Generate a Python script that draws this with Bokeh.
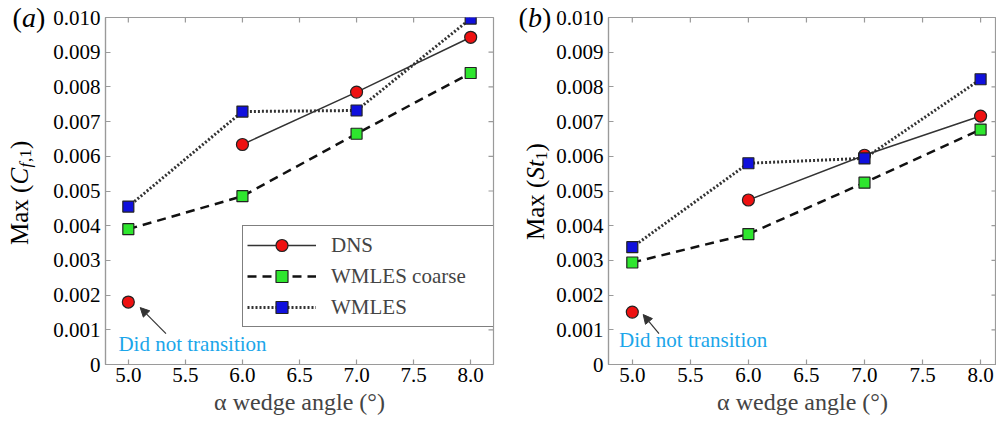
import math
from bokeh.plotting import figure
from bokeh.layouts import row
from bokeh.models import (Range1d, FixedTicker, Legend, LegendItem,
                          Label, Arrow, NormalHead)
from bokeh.embed import file_html
from bokeh.resources import INLINE

# ---------------- data ----------------
angles = [5.0, 6.0, 7.0, 8.0]
cf_dns = [0.00180, 0.00634, 0.00785, 0.00943]
cf_coarse = [0.00390, 0.00485, 0.00665, 0.00840]
cf_wmles = [0.00455, 0.00729, 0.00732, 0.00997]
st_dns = [0.00151, 0.00474, 0.00603, 0.00716]
st_coarse = [0.00294, 0.00376, 0.00524, 0.00677]
st_wmles = [0.00338, 0.00580, 0.00594, 0.00822]
series_names = ["DNS", "WMLES coarse", "WMLES"]
x_ticks = [5.0, 5.5, 6.0, 6.5, 7.0, 7.5, 8.0]
x_tick_labels = ["5.0", "5.5", "6.0", "6.5", "7.0", "7.5", "8.0"]
y_ticks = [0.0, 0.001, 0.002, 0.003, 0.004, 0.005, 0.006, 0.007, 0.008, 0.009, 0.010]
y_tick_labels = ["0", "0.001", "0.002", "0.003", "0.004", "0.005", "0.006",
                 "0.007", "0.008", "0.009", "0.010"]
x_title = "\u03b1 wedge angle (\u00b0)"
note_text = "Did not transition"

SERIF = "Liberation Serif"
FRAME_GREY = "#9a9a9a"
H = 420
Y_MAX = 0.010


def style_axis(ax, ticks, labels):
    ax.ticker = FixedTicker(ticks=ticks)
    ax.major_label_overrides = {t: l for t, l in zip(ticks, labels)}
    ax.minor_tick_line_color = None
    ax.major_tick_in = 5
    ax.major_tick_out = 0
    ax.major_tick_line_color = FRAME_GREY
    ax.major_tick_line_width = 1.2
    ax.axis_line_color = FRAME_GREY
    ax.axis_line_width = 1.2
    ax.major_label_text_font = SERIF
    ax.major_label_text_font_size = "21px"
    ax.major_label_text_color = "black"


def make_panel(dns, coarse, wmles, x_start, x_end, width, mb_right,
               arrow, note_xy, with_legend):
    p = figure(width=width, height=H, output_backend="svg",
               toolbar_location=None,
               x_range=Range1d(x_start, x_end), y_range=Range1d(0.0, Y_MAX),
               min_border_left=52, min_border_right=mb_right,
               min_border_top=17, min_border_bottom=56)
    p.grid.visible = False
    p.outline_line_color = FRAME_GREY
    p.outline_line_width = 1.2
    p.background_fill_color = "white"

    style_axis(p.xaxis[0], x_ticks, x_tick_labels)
    p.xaxis.major_label_standoff = 3
    p.xaxis.axis_label = x_title
    p.xaxis.axis_label_text_font = SERIF
    p.xaxis.axis_label_text_font_size = "24px"
    p.xaxis.axis_label_text_font_style = "normal"
    p.xaxis.axis_label_standoff = 4
    style_axis(p.yaxis[0], y_ticks, y_tick_labels)
    p.yaxis.major_label_standoff = 5

    # inward ticks on the top and right edges of the box
    p.scatter(x_ticks, [Y_MAX] * len(x_ticks), marker="dash", angle=math.pi / 2,
              size=10, line_color=FRAME_GREY, line_width=1.2)
    p.scatter([x_end] * len(y_ticks), y_ticks, marker="dash",
              size=10, line_color=FRAME_GREY, line_width=1.2)

    # lines
    l_dns = p.line(angles[1:], dns[1:], line_color="#333333", line_width=1.5)
    l_coarse = p.line(angles, coarse, line_color="#111111", line_width=2.5,
                      line_dash="9 6")
    l_wmles = p.line(angles, wmles, line_color="#333333", line_width=3,
                     line_dash="2 2")
    # markers
    s_dns = p.scatter(angles, dns, marker="circle", size=12, fill_color="#ee1111",
                      line_color="#222222", line_width=1.2)
    s_coarse = p.scatter(angles, coarse, marker="square", size=11,
                         fill_color="#2ee62e", line_color="#222222", line_width=1.2)
    s_wmles = p.scatter(angles, wmles, marker="square", size=11,
                        fill_color="#1010dd", line_color="#222222", line_width=1.2)

    if with_legend:
        legend = Legend(items=[
            LegendItem(label=series_names[0], renderers=[l_dns, s_dns]),
            LegendItem(label=series_names[1], renderers=[l_coarse, s_coarse]),
            LegendItem(label=series_names[2], renderers=[l_wmles, s_wmles]),
        ], location=(137, 37))
        legend.label_text_font = SERIF
        legend.label_text_font_size = "21px"
        legend.label_text_baseline = "middle"
        legend.glyph_width = 69
        legend.glyph_height = 30
        legend.spacing = 1
        legend.padding = 4
        legend.margin = 0
        legend.label_standoff = 15
        legend.label_width = 158
        legend.label_height = 30
        legend.border_line_color = "black"
        legend.border_line_width = 1.2
        legend.background_fill_color = "white"
        legend.background_fill_alpha = 1.0
        p.add_layout(legend)

    # arrow + note
    (ax0, ay0, ax1, ay1) = arrow
    p.add_layout(Arrow(end=NormalHead(size=9, fill_color="#333333",
                                      line_color="#333333"),
                       x_start=ax0, y_start=ay0, x_end=ax1, y_end=ay1,
                       line_color="#333333", line_width=1.2))
    p.add_layout(Label(x=note_xy[0], y=note_xy[1], text=note_text,
                       text_color="#1ba6ea", text_font=SERIF,
                       text_font_size="21px", text_baseline="middle",
                       text_align="left"))
    return p


def make_side(width, ylabel_parts, ylabel_x, ylabel_cy, letter, letter_x):
    """Narrow canvas on the left of a panel holding the rotated y title
    and the panel letter (coordinates here are plain pixels)."""
    s = figure(width=width, height=H, output_backend="svg",
               toolbar_location=None, title=None,
               x_axis_location=None, y_axis_location=None,
               x_range=Range1d(0, width), y_range=Range1d(0, H),
               min_border=0, frame_align=False)
    s.grid.visible = False
    s.outline_line_color = None
    s.background_fill_color = "white"
    for (txt, size, style, dx, dy) in ylabel_parts:
        s.add_layout(Label(x=ylabel_x + dx, y=ylabel_cy + dy, text=txt,
                           angle=math.pi / 2, text_font=SERIF,
                           text_font_size=size, text_font_style=style,
                           text_align="left", text_baseline="middle",
                           text_color="black"))
    for (txt, style, dx) in [("(", "normal", 0), (letter, "italic", 9.5),
                             (")", "normal", 23.5)]:
        s.add_layout(Label(x=letter_x + dx, y=H - 17, text=txt,
                           text_font=SERIF, text_font_size="28px",
                           text_font_style=style, text_align="left",
                           text_baseline="middle", text_color="black"))
    return s


cf_label = [("Max (", "25px", "normal", 0, -53.5),
            ("C", "25px", "italic", 0, 7.0),
            ("f", "17px", "italic", 6, 24.0),
            (",1", "17px", "normal", 6, 29.5),
            (")", "25px", "normal", 0, 42.5)]
st_label = [("Max (", "25px", "normal", 0, -48.5),
            ("St", "25px", "italic", 0, 12.0),
            ("1", "17px", "normal", 6, 31.5),
            (")", "25px", "normal", 0, 40.0)]

side1 = make_side(50, cf_label, 18.5, H - 191, "a", 12)
p1 = make_panel(cf_dns, cf_coarse, cf_wmles, 4.8, 8.2, 450, 7,
                (5.33, 0.00089, 5.104, 0.00164), (4.913, 0.0006), True)
side2 = make_side(53, st_label, 35, H - 191, "b", 18)
p2 = make_panel(st_dns, st_coarse, st_wmles, 4.795, 8.137, 443, 0,
                (5.23, 0.00089, 5.094, 0.00144), (4.886, 0.00072), False)

layout = row(side1, p1, side2, p2)
open("out.html", "w").write(file_html(layout, INLINE))
